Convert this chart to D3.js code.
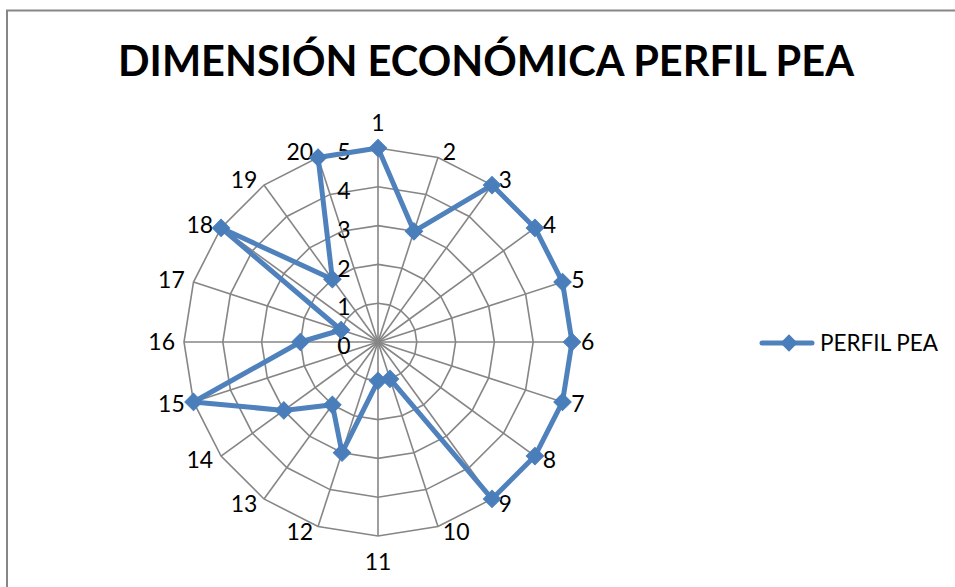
<!DOCTYPE html>
<html>
<head>
<meta charset="utf-8">
<script src="https://cdn.jsdelivr.net/npm/d3@7"></script>
<style>
  html, body { margin: 0; padding: 0; background: #fff; }
  svg text { font-family: Lato, "Open Sans", sans-serif; fill: #000; }
</style>
</head>
<body>
<svg id="chart" width="955" height="587"></svg>
<script>
// Radar chart data: 20 indicators scored on a 0–5 scale
const categories = ["1","2","3","4","5","6","7","8","9","10","11","12","13","14","15","16","17","18","19","20"];
const seriesName = "PERFIL PEA";
const values = [5, 3, 5, 5, 5, 5, 5, 5, 5, 1, 1, 3, 2, 3, 5, 2, 1, 5, 2, 5];
const radialTicks = [0, 1, 2, 3, 4, 5];
const title = "DIMENSIÓN ECONÓMICA PERFIL PEA";

const svg = d3.select("#chart");
const W = 955, H = 587;
const cx = 378, cy = 342, R = 194;
const gridColor = "#868686";
const lineColor = "#4F81BD";
const labelSize = 23;
const capH = labelSize * 0.72;

// chart frame
svg.append("rect")
  .attr("x", 7).attr("y", 10.5)
  .attr("width", W + 20).attr("height", H + 20)
  .attr("fill", "#fff").attr("stroke", gridColor).attr("stroke-width", 2);

// title
svg.append("text")
  .attr("x", 486).attr("y", 76)
  .attr("text-anchor", "middle")
  .attr("font-size", 41.5).attr("font-weight", 700)
  .text(title);

const r = d3.scaleLinear().domain([0, 5]).range([0, R]);
const angle = d3.scaleLinear().domain([0, categories.length]).range([0, 2 * Math.PI]);

const g = svg.append("g").attr("transform", `translate(${cx},${cy})`);

// polygonal grid rings
const ring = d3.lineRadial().curve(d3.curveLinearClosed);
radialTicks.filter(t => t > 0).forEach(t => {
  g.append("path")
    .attr("d", ring(categories.map((c, i) => [angle(i), r(t)])))
    .attr("fill", "none").attr("stroke", gridColor).attr("stroke-width", 1.6);
});

// spokes
categories.forEach((c, i) => {
  const a = angle(i);
  g.append("line")
    .attr("x1", 0).attr("y1", 0)
    .attr("x2", r(5) * Math.sin(a)).attr("y2", -r(5) * Math.cos(a))
    .attr("stroke", gridColor).attr("stroke-width", 1.6);
});

// radial tick labels along the first spoke
g.selectAll(".rtick").data(radialTicks).join("text")
  .attr("class", "rtick")
  .attr("x", -34)
  .attr("y", d => -r(d) + 4 + capH / 2)
  .attr("text-anchor", "middle")
  .attr("font-size", labelSize)
  .text(d => d);

// category labels around the outside
g.selectAll(".cat").data(categories).join("text")
  .attr("class", "cat")
  .attr("font-size", labelSize)
  .attr("text-anchor", "middle")
  .each(function(d, i) {
    const a = angle(i);
    const sx = Math.sin(a), sy = -Math.cos(a);
    const px = r(5) * sx, py = r(5) * sy;
    const halfW = d.length * labelSize * 0.29;
    let dx = 0, dy = 0;
    if (Math.abs(sx) < 0.05) {
      dy = sy > 0 ? 26 : -25;
    } else {
      dx = Math.sign(sx) * (halfW + 3 + 6 * Math.abs(sx));
      dy = sy * 6;
    }
    d3.select(this)
      .attr("x", px + dx)
      .attr("y", py + dy + capH / 2)
      .text(d);
  });

// data series
const line = d3.lineRadial()
  .angle((d, i) => angle(i))
  .radius(d => r(d))
  .curve(d3.curveLinearClosed);

g.append("path")
  .datum(values)
  .attr("d", line)
  .attr("fill", "none")
  .attr("stroke", lineColor)
  .attr("stroke-width", 5)
  .attr("stroke-linejoin", "round");

// square markers turned 45° to read as diamonds
const marker = d3.symbol().type(d3.symbolSquare).size(150);
g.selectAll(".mark").data(values).join("path")
  .attr("class", "mark")
  .attr("d", marker)
  .attr("transform", (d, i) => {
    const a = angle(i);
    return `translate(${r(d) * Math.sin(a)},${-r(d) * Math.cos(a)}) rotate(45)`;
  })
  .attr("fill", "#4A7EBB")
  .attr("stroke", "#4A7EBB").attr("stroke-width", 1);

// legend
const lg = svg.append("g").attr("transform", "translate(760,343)");
lg.append("line").attr("x1", 2).attr("x2", 52).attr("y1", 0).attr("y2", 0)
  .attr("stroke", lineColor).attr("stroke-width", 5).attr("stroke-linecap", "round");
lg.append("path").attr("d", marker).attr("transform", "translate(29,0) rotate(45)")
  .attr("fill", "#4A7EBB");
lg.append("text").attr("x", 60).attr("y", capH / 2)
  .attr("font-size", labelSize - 0.5).text(seriesName);
</script>
</body>
</html>
